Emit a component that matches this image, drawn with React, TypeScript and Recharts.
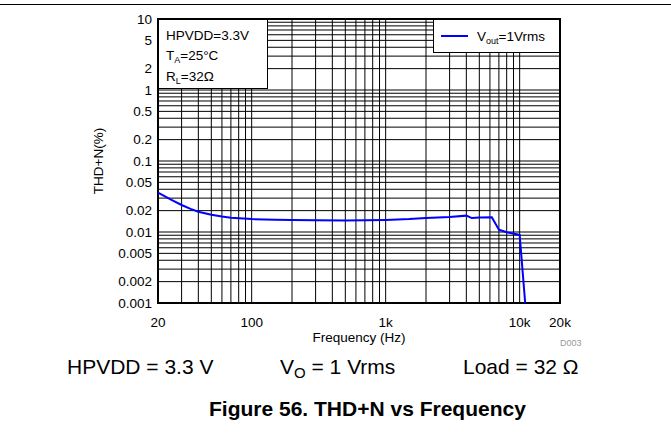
import { LineChart, Line, XAxis, YAxis, ReferenceLine, ReferenceArea, Legend } from 'recharts';

// measured curve, Vout = 1 Vrms
const freqHz = [20, 25, 30, 35, 40, 50, 60, 70, 100, 150, 200, 300, 500, 1000, 1500, 2000, 3000, 4000, 4400, 5000, 6200, 7000, 8000, 10000, 11100];
const thdnPct = [0.036, 0.0285, 0.024, 0.0212, 0.0193, 0.0175, 0.0165, 0.0159, 0.0152, 0.0149, 0.0147, 0.0146, 0.0145, 0.0148, 0.0152, 0.0157, 0.0163, 0.017, 0.0157, 0.016, 0.0161, 0.0108, 0.0099, 0.0091, 0.0008];

const xTicks = [20, 100, 1000, 10000, 20000];
const yTicks = [0.001, 0.002, 0.005, 0.01, 0.02, 0.05, 0.1, 0.2, 0.5, 1, 2, 5, 10];

const xGrid = [
  30, 40, 50, 60, 70, 80, 90, 100,
  200, 300, 400, 500, 600, 700, 800, 900, 1000,
  2000, 3000, 4000, 5000, 6000, 7000, 8000, 9000, 10000,
];
const yGrid = [
  0.002, 0.003, 0.004, 0.005, 0.006, 0.007, 0.008, 0.009, 0.01,
  0.02, 0.03, 0.04, 0.05, 0.06, 0.07, 0.08, 0.09, 0.1,
  0.2, 0.3, 0.4, 0.5, 0.6, 0.7, 0.8, 0.9, 1,
  2, 3, 4, 5, 6, 7, 8, 9,
];

const data = freqHz.map((f, i) => ({ f, v: thdnPct[i] }));

const font = '"Liberation Sans", Arial, Helvetica, sans-serif';
const blue = '#0000ff';

const fmtFreq = (v: number) => (v >= 1000 ? `${v / 1000}k` : String(v));

const sub = (s: string, size = 9, drop = 3) => (
  <span style={{ fontSize: size, position: 'relative', top: drop }}>{s}</span>
);

function LegendBox() {
  return (
    <div
      style={{
        width: 127,
        height: 34,
        boxSizing: 'border-box',
        border: '1.5px solid #000',
        background: '#fff',
        display: 'flex',
        alignItems: 'center',
        fontFamily: font,
        fontSize: 13.5,
        color: '#000',
      }}
    >
      <span style={{ display: 'inline-block', width: 27, height: 2, background: blue, marginLeft: 7, marginRight: 9 }} />
      <span style={{ whiteSpace: 'nowrap' }}>V{sub('out')}=1Vrms</span>
    </div>
  );
}

export default function App() {
  return (
    <div style={{ position: 'relative', width: 671, height: 436, background: '#fff', fontFamily: font, color: '#000' }}>
      <style>{'body{margin:0}'}</style>
      <div style={{ position: 'absolute', left: 0, top: 4, width: 671, height: 1, background: '#000' }} />

      <LineChart width={671} height={436} data={data} margin={{ top: 19, right: 111, bottom: 65, left: 38 }}>
        <XAxis
          dataKey="f"
          type="number"
          scale="log"
          domain={[20, 20000]}
          ticks={xTicks}
          tickFormatter={fmtFreq}
          allowDataOverflow
          tickLine={false}
          axisLine={false}
          tickMargin={8}
          height={68}
          tick={{ fill: '#000', fontSize: 13.5, fontFamily: font }}
          label={{ value: 'Frequency (Hz)', position: 'center', fill: '#000', fontSize: 13.5, fontFamily: font }}
        />
        <YAxis
          dataKey="v"
          type="number"
          scale="log"
          domain={[0.001, 10]}
          ticks={yTicks}
          allowDataOverflow
          tickLine={false}
          axisLine={false}
          tickMargin={0}
          width={120}
          tick={{ fill: '#000', fontSize: 13.5, fontFamily: font }}
          label={{ value: 'THD+N(%)', angle: -90, position: 'center', fill: '#000', fontSize: 13.5, fontFamily: font }}
        />
        {xGrid.map((x) => (
          <ReferenceLine key={`gx${x}`} x={x} stroke="#000" strokeWidth={1} />
        ))}
        {yGrid.map((y) => (
          <ReferenceLine key={`gy${y}`} y={y} stroke="#000" strokeWidth={1} />
        ))}
        <Line
          type="linear"
          dataKey="v"
          name="Vout=1Vrms"
          stroke={blue}
          strokeWidth={2}
          dot={false}
          isAnimationActive={false}
        />
        <ReferenceArea x1={20} x2={20000} y1={0.001} y2={10} fill="none" fillOpacity={0} stroke="#000" strokeWidth={2} />
        <Legend
          layout="horizontal"
          verticalAlign="middle"
          align="center"
          content={() => <LegendBox />}
          wrapperStyle={{ left: 433, top: 19, width: 127, height: 34 }}
        />
      </LineChart>

      {/* test conditions box */}
      <div
        style={{
          position: 'absolute',
          left: 158,
          top: 19,
          width: 110,
          height: 70,
          boxSizing: 'border-box',
          border: '1.5px solid #000',
          background: '#fff',
          padding: '6px 0 0 7px',
          fontSize: 13.5,
          lineHeight: '19.5px',
        }}
      >
        <div>HPVDD=3.3V</div>
        <div>T{sub('A')}=25°C</div>
        <div>R{sub('L')}=32Ω</div>
      </div>

      <div style={{ position: 'absolute', left: 560, top: 338, fontSize: 9, color: '#999' }}>D003</div>

      <div style={{ position: 'absolute', top: 356, left: 67, fontSize: 21, lineHeight: '21px', whiteSpace: 'nowrap' }}>HPVDD = 3.3 V</div>
      <div style={{ position: 'absolute', top: 356, left: 280, fontSize: 21, lineHeight: '21px', whiteSpace: 'nowrap' }}>
        V{sub('O', 15, 4)} = 1 Vrms
      </div>
      <div style={{ position: 'absolute', top: 356, left: 463, fontSize: 21, lineHeight: '21px', whiteSpace: 'nowrap' }}>Load = 32 Ω</div>

      <div style={{ position: 'absolute', top: 398, left: 209, fontSize: 21, lineHeight: '21px', fontWeight: 'bold', whiteSpace: 'nowrap' }}>
        Figure 56. THD+N vs Frequency
      </div>
    </div>
  );
}
